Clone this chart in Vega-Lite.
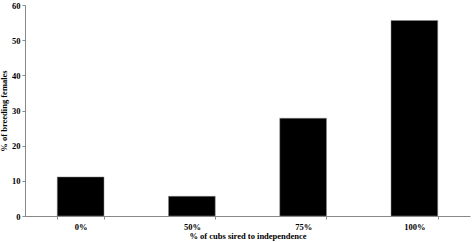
{
  "$schema": "https://vega.github.io/schema/vega-lite/v6.json",
  "width": 445,
  "height": 211,
  "autosize": {"type": "none"},
  "padding": {"left": 25, "top": 5, "right": 2, "bottom": 26},
  "background": "white",
  "data": {"values": [
    {"cat": "0%", "pct": 11.1},
    {"cat": "50%", "pct": 5.6},
    {"cat": "75%", "pct": 27.8},
    {"cat": "100%", "pct": 55.6}
  ]},
  "mark": {"type": "bar", "color": "black", "stroke": "#888", "strokeWidth": 0.5},
  "encoding": {
    "x": {
      "field": "cat", "type": "nominal", "sort": null,
      "scale": {"paddingInner": 0.58, "paddingOuter": 0.29},
      "axis": {
        "title": "% of cubs sired to independence",
        "labelAngle": 0, "tickBand": "extent",
        "domainColor": "#888", "tickColor": "#888", "tickSize": 3,
        "labelFont": "Liberation Serif", "labelFontWeight": "bold", "labelFontSize": 8.5, "labelColor": "black",
        "labelPadding": 3,
        "titleFont": "Liberation Serif", "titleFontWeight": "bold", "titleFontSize": 8.5, "titleColor": "black",
        "titlePadding": 1
      }
    },
    "y": {
      "field": "pct", "type": "quantitative",
      "scale": {"domain": [0, 60]},
      "axis": {
        "title": "% of breeding females",
        "values": [0, 10, 20, 30, 40, 50, 60],
        "grid": false,
        "domainColor": "#888", "tickColor": "#888", "tickSize": 3,
        "labelFont": "Liberation Serif", "labelFontWeight": "bold", "labelFontSize": 8.5, "labelColor": "black",
        "labelPadding": 2,
        "titleFont": "Liberation Serif", "titleFontWeight": "bold", "titleFontSize": 8.5, "titleColor": "black",
        "titlePadding": 3
      }
    }
  },
  "config": {"view": {"stroke": null}}
}
